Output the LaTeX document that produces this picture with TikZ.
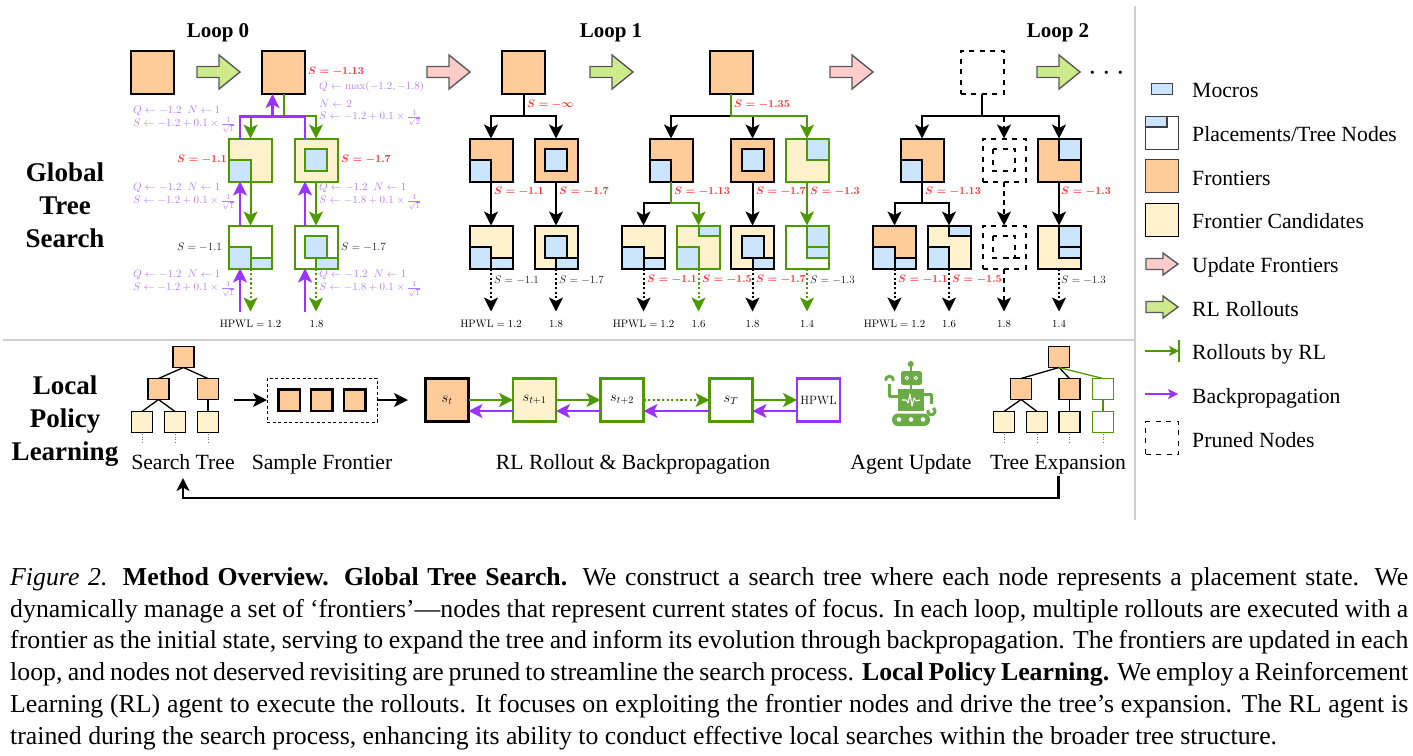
\RequirePackage{fix-cm}
\documentclass[tikz,border=0pt]{standalone}
\usepackage[no-math]{fontspec}
\setmainfont{Liberation Serif}
\usetikzlibrary{arrows.meta}
\definecolor{grn}{HTML}{4D9900}
\definecolor{pur}{HTML}{9933FF}
\definecolor{purt}{HTML}{B27FFF}
\definecolor{blu}{HTML}{CCE5FF}
\definecolor{org}{HTML}{FFCC99}
\definecolor{yel}{HTML}{FFF2CC}
\definecolor{lgr}{HTML}{CDEB8B}
\definecolor{pnk}{HTML}{FFCCCC}
\definecolor{redt}{HTML}{FF3333}
\definecolor{rulec}{HTML}{CFCFCF}
\definecolor{robo}{HTML}{6AAB46}
\tikzset{
 sqr/.style={draw,line width=2pt,minimum size=43pt,inner sep=0pt,outer sep=0pt},
 front/.style={sqr,fill=org},
 cand/.style={sqr,fill=yel},
 plainsq/.style={sqr,fill=white},
 gb/.style={draw=grn},
 prn/.style={sqr,dash pattern=on 5pt off 5.5pt},
 macro/.style={draw,fill=blu,line width=2pt},
 prnm/.style={draw,line width=2pt,dash pattern=on 5pt off 5.5pt},
 wire/.style={line width=2pt},
 edg/.style={wire,-{Stealth[length=14pt,width=14pt,inset=3.5pt]}},
 dott/.style={dash pattern=on 2.2pt off 2.4pt},
 dash2/.style={dash pattern=on 5pt off 4pt},
 pw/.style={wire,draw=pur,line width=2.3pt},
 pe/.style={edg,draw=pur,line width=2.3pt},
 rs/.style={text=redt,inner sep=0pt,font=\fontsize{10.7}{13}\selectfont\boldmath},
 ks/.style={text=black!85,inner sep=0pt,font=\fontsize{11}{13}\selectfont},
 qs/.style={text=purt,inner sep=0pt,anchor=west,font=\fontsize{11}{13}\selectfont},
 hp/.style={inner sep=0pt,font=\fontsize{10.8}{13}\selectfont},
 ttl/.style={inner sep=0pt,font=\fontsize{21}{23}\selectfont\bfseries},
 big/.style={inner sep=0pt,align=center,font=\fontsize{27}{33}\selectfont\bfseries},
 leg/.style={inner sep=0pt,anchor=base west,font=\fontsize{21.7}{24}\selectfont},
 lbl/.style={inner sep=0pt,anchor=base,font=\fontsize{21.7}{24}\selectfont},
 ss/.style={sqr,line width=1.6pt,minimum size=21pt},
 fs/.style={sqr,line width=2.5pt,minimum size=21.5pt},
 sw/.style={line width=1.3pt},
 sdt/.style={line width=1pt,draw=black!55,dash pattern=on 1pt off 1.5pt},
 bblk/.style={draw=black!65,line width=1.4pt},
 stbox/.style={sqr,line width=2.3pt,font=\fontsize{14.5}{16}\selectfont},
}
\newcommand\sq[4]{\node[#4] (#1) at (#2,#3) {};}
\newcommand\mac[6]{\draw[macro,#6,shift={(#1.center)}] (#2,#3) rectangle (#4,#5);}
\newcommand\pA[2]{\mac{#1}{-21.5}{0}{0}{21.5}{#2}}
\newcommand\pS[2]{\mac{#1}{0}{11}{21.5}{21.5}{#2}}
\newcommand\pC[2]{\mac{#1}{-11}{-11}{11}{11}{#2}}
\newcommand\pT[2]{\mac{#1}{0}{-21.5}{21.5}{-11}{#2}}
\newcommand\pF[2]{\mac{#1}{0}{-21.5}{21.5}{0}{#2}}
\newcommand\pG[2]{\mac{#1}{0}{0}{21.5}{11}{#2}}
\newcommand\pblock[3]{\draw[bblk,fill=#3,shift={(#1,#2)}] (0,-5.5) -- (22,-5.5) -- (22,-17) -- (43,0) -- (22,17) -- (22,5.5) -- (0,5.5) -- cycle;}
\begin{document}
\begin{tikzpicture}[x=1pt,y=-1pt]
\useasboundingbox (0,0) rectangle (1413,755);
% rules
\draw[rulec,line width=2pt] (3,339.5) -- (1134.5,339.5);
\draw[rulec,line width=2pt] (1134.5,6) -- (1134.5,520);
% titles
\node[ttl] (t0) at (218,33) {Loop 0};
\node[ttl] (t1) at (611,33) {Loop 1};
\node[ttl] (t2) at (1058,33) {Loop 2};
\node[big] (gts) at (65,205) {Global\\Tree\\Search};
\node[big] (lpl) at (65,421) {Local\\Policy\\Learning};
% block arrows
\pblock{197}{72}{lgr}
\pblock{427}{72}{pnk}
\pblock{590}{72}{lgr}
\pblock{830}{72}{pnk}
\pblock{1037}{72}{lgr}
\node[inner sep=0pt,font=\fontsize{31}{31}\selectfont] (more) at (1107,74) {$\cdots$};
% ---- Loop 0
\sq{z0}{152.5}{72.5}{front}
\sq{z1}{283.5}{72.5}{front}
\sq{a1}{250.5}{160}{cand,gb}\pA{a1}{gb}
\sq{a2}{316}{160}{cand,gb}\pC{a2}{gb}
\sq{a3}{250.5}{247}{plainsq,gb}\pA{a3}{gb}\pS{a3}{gb}
\sq{a4}{316}{247}{plainsq,gb}\pC{a4}{gb}\pS{a4}{gb}
\draw[edg,draw=grn] (z1.south) -- ++(0,21.5) -| (a1.north);
\draw[edg,draw=grn] (z1.south) -- ++(0,21.5) -| (a2.north);
\draw[edg,draw=grn] (a1.south) -- (a3.north);
\draw[edg,draw=grn] (a2.south) -- (a4.north);
\draw[edg,draw=grn,dott] (a3.south) -- ++(0,43);
\draw[edg,draw=grn,dott] (a4.south) -- ++(0,43);
\draw[pw] ([xshift=-10.5pt]a1.north) -- ++(0,-22) -| ([xshift=-11pt]a2.north);
\coordinate (b0) at ([xshift=-11pt]z1.south |- 0,116);
\draw[pe] (b0) -- (b0 |- z1.south);
\draw[pe] ([xshift=-10.5pt]a3.north) -- ([xshift=-10.5pt]a1.south);
\draw[pe] ([xshift=-11pt]a4.north) -- ([xshift=-11pt]a2.south);
\draw[pe] ([xshift=-10.5pt,yshift=-43pt]a3.south) -- ([xshift=-10.5pt]a3.south);
\draw[pe] ([xshift=-11pt,yshift=-43pt]a4.south) -- ([xshift=-11pt]a4.south);
\node[rs,anchor=west] (sa) at (308,72) {$S=-1.13$};
\node[rs,anchor=west] (sb) at (177,160) {$S=-1.1$};
\node[rs,anchor=west] (sc) at (341,160) {$S=-1.7$};
\node[ks,anchor=west] (sd) at (177,247) {$S=-1.1$};
\node[ks,anchor=west] (se) at (341,247) {$S=-1.7$};
\node[qs] (q1) at (319,87) {$Q\leftarrow\max(-1.2,-1.8)$};
\node[qs] (q2) at (319,104) {$N\leftarrow 2$};
\node[qs] (q3) at (319,118) {$S\leftarrow -1.2+0.1\times\frac{1}{\sqrt{2}}$};
\node[qs] (q4) at (133,111) {$Q\leftarrow -1.2\;\;N\leftarrow 1$};
\node[qs] (q5) at (133,125) {$S\leftarrow -1.2+0.1\times\frac{1}{\sqrt{1}}$};
\node[qs] (q6) at (133,188) {$Q\leftarrow -1.2\;\;N\leftarrow 1$};
\node[qs] (q7) at (133,202) {$S\leftarrow -1.2+0.1\times\frac{1}{\sqrt{1}}$};
\node[qs] (q8) at (319,188) {$Q\leftarrow -1.2\;\;N\leftarrow 1$};
\node[qs] (q9) at (319,202) {$S\leftarrow -1.8+0.1\times\frac{1}{\sqrt{1}}$};
\node[qs] (q10) at (133,275) {$Q\leftarrow -1.2\;\;N\leftarrow 1$};
\node[qs] (q11) at (133,289) {$S\leftarrow -1.2+0.1\times\frac{1}{\sqrt{1}}$};
\node[qs] (q12) at (319,275) {$Q\leftarrow -1.2\;\;N\leftarrow 1$};
\node[qs] (q13) at (319,289) {$S\leftarrow -1.8+0.1\times\frac{1}{\sqrt{1}}$};
\node[hp] (h1) at (250.5,324) {$\mathrm{HPWL}=1.2$};
\node[hp] (h2) at (316.5,324) {$1.8$};
% ---- Loop 1 left
\sq{b0n}{523.5}{72.5}{front}
\sq{b1}{491}{160}{front}\pA{b1}{}
\sq{b2}{556}{160}{front}\pC{b2}{}
\sq{b3}{491}{247}{cand}\pA{b3}{}\pS{b3}{}
\sq{b4}{556}{247}{cand}\pC{b4}{}\pS{b4}{}
\draw[edg] (b0n.south) -- ++(0,21.5) -| (b1.north);
\draw[edg] (b0n.south) -- ++(0,21.5) -| (b2.north);
\draw[edg] (b1.south) -- (b3.north);
\draw[edg] (b2.south) -- (b4.north);
\draw[edg,dott] (b3.south) -- ++(0,43);
\draw[edg,dott] (b4.south) -- ++(0,43);
\node[rs,anchor=west] (s10) at (527,105) {$S=-\infty$};
\node[rs,anchor=west] (s11) at (494,192) {$S=-1.1$};
\node[rs,anchor=west] (s12) at (559,192) {$S=-1.7$};
\node[ks,anchor=west] (s13) at (494,280) {$S=-1.1$};
\node[ks,anchor=west] (s14) at (559,280) {$S=-1.7$};
\node[hp] (h3) at (491,324) {$\mathrm{HPWL}=1.2$};
\node[hp] (h4) at (556,324) {$1.8$};
% ---- Loop 1 right
\sq{c0}{731}{72.5}{front}
\sq{c1}{671}{160}{front}\pA{c1}{}
\sq{c2}{752.5}{160}{front}\pC{c2}{}
\sq{c3}{807}{160}{cand,gb}\pF{c3}{gb}
\sq{c4}{643.5}{247}{cand}\pA{c4}{}\pS{c4}{}
\sq{c5}{698.5}{247}{cand,gb}\pA{c5}{gb}\pT{c5}{gb}
\sq{c6}{752.5}{247}{cand}\pC{c6}{}\pS{c6}{}
\sq{c7}{807}{247}{plainsq,gb}\pF{c7}{gb}\pG{c7}{gb}
\draw[edg] (c0.south) -- ++(0,21.5) -| (c1.north);
\coordinate (c0b) at (c0.south |- 0,116);
\draw[edg] (c0b -| c2.north) -- (c2.north);
\draw[edg,draw=grn] (c0.south) -- ++(0,21.5) -| (c3.north);
\draw[edg] (c1.south) -- ++(0,21) -| (c4.north);
\draw[edg,draw=grn] (c1.south) -- ++(0,21) -| (c5.north);
\draw[edg] (c2.south) -- (c6.north);
\draw[edg,draw=grn] (c3.south) -- (c7.north);
\draw[edg,dott] (c4.south) -- ++(0,43);
\draw[edg,dott,draw=grn] (c5.south) -- ++(0,43);
\draw[edg,dott] (c6.south) -- ++(0,43);
\draw[edg,dott,draw=grn] (c7.south) -- ++(0,43);
\node[rs,anchor=west] (s20) at (734,105) {$S=-1.35$};
\node[rs,anchor=west] (s21) at (674,192) {$S=-1.13$};
\node[rs,anchor=west] (s22) at (756,192) {$S=-1.7$};
\node[rs,anchor=west] (s23) at (810,192) {$S=-1.3$};
\node[rs,anchor=west] (s24) at (647,280) {$S=-1.1$};
\node[rs,anchor=west] (s25) at (702,280) {$S=-1.5$};
\node[rs,anchor=west] (s26) at (756,280) {$S=-1.7$};
\node[ks,anchor=west] (s27) at (810,280) {$S=-1.3$};
\node[hp] (h5) at (643.5,324) {$\mathrm{HPWL}=1.2$};
\node[hp] (h6) at (698.5,324) {$1.6$};
\node[hp] (h7) at (752.5,324) {$1.8$};
\node[hp] (h8) at (807,324) {$1.4$};
% ---- Loop 2
\sq{d0}{982}{72.5}{prn}
\sq{d1}{922}{160}{front}\pA{d1}{}
\sq{d2}{1004}{160}{prn}\draw[prnm,shift={(d2.center)}] (-11,-11) rectangle (11,11);
\sq{d3}{1059}{160}{front}\pF{d3}{}
\sq{d4}{894.5}{247}{front}\pA{d4}{}\pS{d4}{}
\sq{d5}{949}{247}{cand}\pA{d5}{}\pT{d5}{}
\sq{d6}{1004}{247}{prn}\draw[prnm,shift={(d6.center)}] (-11,-11) rectangle (11,11) (0,11) -- (21.5,11);
\sq{d7}{1059}{247}{cand}\pF{d7}{}\pG{d7}{}
\draw[edg] (d0.south) -- ++(0,21.5) -| (d1.north);
\draw[edg] (d0.south) -- ++(0,21.5) -| (d3.north);
\draw[edg,dash2] ([yshift=22pt]d2.north) -- (d2.north);
\draw[edg] (d1.south) -- ++(0,21) -| (d4.north);
\draw[edg] (d1.south) -- ++(0,21) -| (d5.north);
\draw[edg,dash2] (d2.south) -- (d6.north);
\draw[edg] (d3.south) -- (d7.north);
\draw[edg,dott] (d4.south) -- ++(0,43);
\draw[edg,dott] (d5.south) -- ++(0,43);
\draw[edg,dash2] (d6.south) -- ++(0,43);
\draw[edg,dott] (d7.south) -- ++(0,43);
\node[rs,anchor=west] (s31) at (925,192) {$S=-1.13$};
\node[rs,anchor=west] (s32) at (1061,192) {$S=-1.3$};
\node[rs,anchor=west] (s33) at (898,280) {$S=-1.1$};
\node[rs,anchor=west] (s34) at (952,280) {$S=-1.5$};
\node[ks,anchor=west] (s35) at (1061,280) {$S=-1.3$};
\node[hp] (h9) at (894.5,324) {$\mathrm{HPWL}=1.2$};
\node[hp] (h10) at (949,324) {$1.6$};
\node[hp] (h11) at (1004,324) {$1.8$};
\node[hp] (h12) at (1059,324) {$1.4$};
% ---- Legend
\node[sqr,fill=blu,draw=black!75,line width=1.7pt,minimum width=21pt,minimum height=11pt] (l1) at (1162,89) {};
\node[sqr,fill=white,draw=black!75,line width=1.7pt,minimum size=33pt] (l2) at (1162,133) {};
\draw[fill=blu,draw=black!75,line width=1.7pt] (l2.north west) rectangle ++(21.5,10.5);
\node[sqr,fill=org,draw=black!75,line width=1.7pt,minimum size=33pt] (l3) at (1162,176) {};
\node[sqr,fill=yel,line width=1.7pt,minimum size=33pt] (l4) at (1162,220) {};
\draw[bblk,fill=pnk,shift={(1146,264)}] (0,-5.5) -- (17,-5.5) -- (17,-11) -- (32,0) -- (17,11) -- (17,5.5) -- (0,5.5) -- cycle;
\draw[bblk,fill=lgr,shift={(1146,307)}] (0,-5.5) -- (17,-5.5) -- (17,-11) -- (32,0) -- (17,11) -- (17,5.5) -- (0,5.5) -- cycle;
\coordinate (l7a) at (1145,351);
\coordinate (l7b) at (1179,351);
\draw[grn,line width=1.5pt,-{Stealth[length=10pt,width=10pt,inset=2.5pt]}] (l7a) -- (l7b);
\draw[grn,line width=1.5pt] ([yshift=11pt]l7b) -- ([yshift=-11pt]l7b);
\coordinate (l8a) at (1145,394);
\coordinate (l8b) at (1178,394);
\draw[pur,line width=1.5pt,-{Stealth[length=10pt,width=10pt,inset=2.5pt]}] (l8a) -- (l8b);
\node[prn,line width=1.6pt,minimum size=33pt] (l9) at (1162,438) {};
\node[leg] (lt1) at (1192,97.3) {Mocros};
\node[leg] (lt2) at (1192,141) {Placements/Tree Nodes};
\node[leg] (lt3) at (1192,185) {Frontiers};
\node[leg] (lt4) at (1192,228.5) {Frontier Candidates};
\node[leg] (lt5) at (1192,272) {Update Frontiers};
\node[leg] (lt6) at (1192,316) {RL Rollouts};
\node[leg] (lt7) at (1192,359.5) {Rollouts by RL};
\node[leg] (lt8) at (1192,403) {Backpropagation};
\node[leg] (lt9) at (1192,447) {Pruned Nodes};
% ---- Local policy: search tree
\sq{e0}{183.5}{357}{front,ss}
\sq{e1}{158.5}{389}{front,ss}
\sq{e2}{208}{389}{front,ss}
\sq{e3}{142}{422}{cand,ss}
\sq{e4}{175}{422}{cand,ss}
\sq{e5}{208}{422}{cand,ss}
\draw[sw] (e0.south) -- (e1.north);
\draw[sw] (e0.south) -- (e2.north);
\draw[sw] (e1.south) -- (e3.north);
\draw[sw] (e1.south) -- (e4.north);
\draw[sw] (e2.south) -- (e5.north);
\draw[sdt] ([yshift=-1.5pt]e3.south) -- ++(0,9);
\draw[sdt] ([yshift=-1.5pt]e4.south) -- ++(0,9);
\draw[sdt] ([yshift=-1.5pt]e5.south) -- ++(0,9);
\node[lbl] (cp1) at (183,469) {Search Tree};
% sample frontier
\node[draw,line width=1pt,dash pattern=on 3pt off 2.5pt,minimum width=110pt,minimum height=44pt,inner sep=0pt,outer sep=0pt] (sf) at (322,400) {};
\sq{f1}{289}{400}{front,fs}
\sq{f2}{321.5}{400}{front,fs}
\sq{f3}{354.5}{400}{front,fs}
\draw[edg] ([xshift=-33pt]sf.west) -- (sf.west);
\node[lbl] (cp2) at (322,469) {Sample Frontier};
% rollout chain
\node[stbox,fill=org] (g0) at (447,400) {$s_t$};
\node[stbox,fill=yel,gb] (g1) at (534.5,400) {$s_{t+1}$};
\node[stbox,fill=white,gb] (g2) at (622,400) {$s_{t+2}$};
\node[stbox,fill=white,gb] (g3) at (731,400) {$s_{T}$};
\node[stbox,fill=white,draw=pur,font=\fontsize{12}{14}\selectfont] (g4) at (818.5,400) {$\mathrm{HPWL}$};
\draw[edg] (sf.east) -- ++(31,0);
\draw[edg,draw=grn] (g0.east) -- (g1.west);
\draw[edg,draw=grn] (g1.east) -- (g2.west);
\draw[edg,draw=grn,dott] (g2.east) -- (g3.west);
\draw[edg,draw=grn] (g3.east) -- (g4.west);
\draw[pe] ([yshift=-11pt]g1.west) -- ([yshift=-11pt]g0.east);
\draw[pe] ([yshift=-11pt]g2.west) -- ([yshift=-11pt]g1.east);
\draw[pe] ([yshift=-11pt]g3.west) -- ([yshift=-11pt]g2.east);
\draw[pe] ([yshift=-11pt]g4.west) -- ([yshift=-11pt]g3.east);
\node[lbl] (cp3) at (633,469) {RL Rollout \& Backpropagation};
% robot
\begin{scope}[robo]
\fill (910.7,364) circle (3);
\draw[line width=2pt] (910.7,364) -- (910.7,372) (910.7,385) -- (910.7,390);
\fill[rounded corners=2.5pt] (901,371) rectangle (922,385);
\draw[white,line width=.9pt] (906.7,378) circle (1.7) (915.7,378) circle (1.7);
\fill (898,389) rectangle (924,411);
\draw[white,line width=1.1pt,line join=round] (902,400) -- (906,400) -- (908,403) -- (910,394) -- (912,406) -- (914,398) -- (916,401) -- (920,400);
\draw[line width=3pt,line join=round] (898,396.5) -- (889.5,396.5) -- (889.5,384);
\draw[line width=3pt,line cap=round] (885.7,380) arc[start angle=180,end angle=360,radius=3.8];
\draw[line width=3pt,line join=round] (924,394) -- (931,394) -- (931,404);
\draw[line width=3pt] (928,410) arc[start angle=200,end angle=-60,radius=3.6];
\fill[rounded corners=6pt] (892,413.5) rectangle (930,426);
\fill[white] (899,419.5) circle (2.3) (911,419.5) circle (2.3) (923,419.5) circle (2.3);
\end{scope}
\node[lbl] (cp4) at (911,469) {Agent Update};
% expansion tree
\sq{i0}{1059}{357}{front,ss}
\sq{i1}{1021}{389}{front,ss}
\sq{i2}{1069.5}{389}{front,ss}
\sq{i3}{1103}{389}{plainsq,ss,draw=grn}
\sq{i4}{1004}{422}{cand,ss}
\sq{i5}{1037}{422}{cand,ss}
\sq{i6}{1069.5}{422}{cand,ss}
\sq{i7}{1103}{422}{plainsq,ss,draw=grn}
\draw[sw] (i0.south) -- (i1.north);
\draw[sw] (i0.south) -- (i2.north);
\draw[sw,draw=grn] (i0.south) -- (i3.north);
\draw[sw] (i1.south) -- (i4.north);
\draw[sw] (i1.south) -- (i5.north);
\draw[sw] (i2.south) -- (i6.north);
\draw[sw,draw=grn] (i3.south) -- (i7.north);
\draw[sdt] ([yshift=-1.5pt]i4.south) -- ++(0,9);
\draw[sdt] ([yshift=-1.5pt]i5.south) -- ++(0,9);
\draw[sdt] ([yshift=-1.5pt]i6.south) -- ++(0,9);
\draw[sdt,draw=grn] ([yshift=-1.5pt]i7.south) -- ++(0,9);
\node[lbl] (cp5) at (1058,469) {Tree Expansion};
% feedback
\coordinate (fba) at (1058.5,476);
\coordinate (fbb) at (183,478);
\draw[line width=2.2pt,-{Stealth[length=13pt,width=13pt,inset=3.5pt]}] (fba) -- ++(0,22) -| (fbb);
% caption
\node[anchor=north west,inner sep=0pt,text width=1398pt,align=justify,font=\fontsize{25.8}{31.9}\selectfont] (capt) at (10,567) {\tolerance=10000\hbadness=10000\hfuzz=200pt\textit{Figure 2.} \textbf{Method Overview. Global Tree Search.} We construct a search tree where each node represents a placement state. We\linebreak dynamically manage a set of ‘frontiers’—nodes that represent current states of focus. In each loop, multiple rollouts are executed with a\linebreak frontier as the initial state, serving to expand the tree and inform its evolution through backpropagation. The frontiers are updated in each\linebreak loop, and nodes not deserved revisiting are pruned to streamline the search process. \textbf{Local Policy Learning.} We employ a Reinforcement\linebreak Learning (RL) agent to execute the rollouts. It focuses on exploiting the frontier nodes and drive the tree’s expansion. The RL agent is\linebreak trained during the search process, enhancing its ability to conduct effective local searches within the broader tree structure.\par};
\end{tikzpicture}
\end{document}
